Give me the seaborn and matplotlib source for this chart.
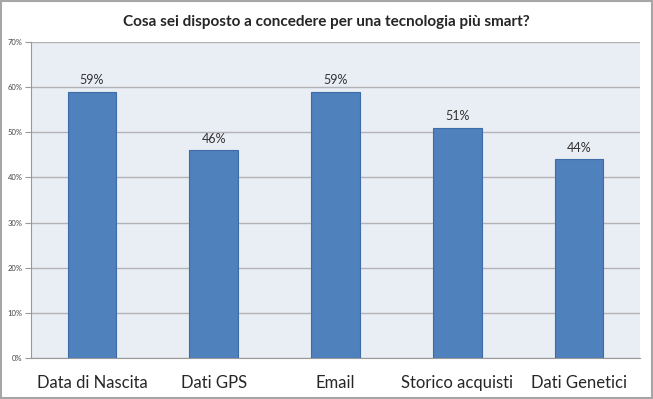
import pandas as pd
import numpy as np
import seaborn as sns
import matplotlib.pyplot as plt
from matplotlib.patches import Rectangle

categories = ['Data di Nascita', 'Dati GPS', 'Email', 'Storico acquisti', 'Dati Genetici']
values = [59, 46, 59, 51, 44]
y_ticks = [0, 10, 20, 30, 40, 50, 60, 70]

df = pd.DataFrame({'categoria': categories, 'valore': values})

sns.set_style('white')
plt.rcParams['font.family'] = ['Lato', 'DejaVu Sans']

fig = plt.figure(figsize=(6.53, 3.99), dpi=100)
ax = fig.add_axes([31 / 653, 1 - 358 / 399, 609 / 653, 316 / 399])
ax.set_facecolor('#E9EDF4')

sns.barplot(data=df, x='categoria', y='valore', color='#4F81BD', width=0.4,
            edgecolor='#3D6DA8', linewidth=0.8, saturation=1, ax=ax, zorder=3)

ax.set_ylim(0, 70)
ax.set_xlim(-0.5, len(categories) - 0.5)
ax.set_yticks(y_ticks)
ax.set_yticklabels([f'{t}%' for t in y_ticks], fontsize=5.5, color='#444444')
ax.yaxis.grid(True, color='#B3B3B3', linewidth=1, zorder=0)
ax.set_axisbelow(True)

ax.set_xticks(range(len(categories)))
ax.set_xticklabels(categories, fontsize=12)
ax.tick_params(axis='x', length=0, pad=12)
ax.set_xticks(np.arange(-0.5, len(categories), 1), minor=True)
ax.tick_params(axis='x', which='minor', length=5, color='#999999', width=0.8)
ax.tick_params(axis='y', length=4, color='#999999', width=0.8, left=True, pad=2)
ax.set_xlabel('')
ax.set_ylabel('')

for s in ['top', 'right']:
    ax.spines[s].set_visible(False)
ax.spines['left'].set_color('#999999')
ax.spines['bottom'].set_color('#999999')

for i, v in enumerate(values):
    ax.text(i, v + 1.2, f'{v}%', ha='center', va='bottom', fontsize=9, color='#333333')

fig.text(0.5, 1 - 22 / 399, 'Cosa sei disposto a concedere per una tecnologia più smart?',
         ha='center', va='center', fontsize=11, fontweight='bold')

fig.patches.append(Rectangle((0.002, 0.003), 0.996, 0.994, transform=fig.transFigure,
                             fill=False, edgecolor='#A6A6A6', linewidth=1.5))

fig.savefig('out.png', dpi=100)
